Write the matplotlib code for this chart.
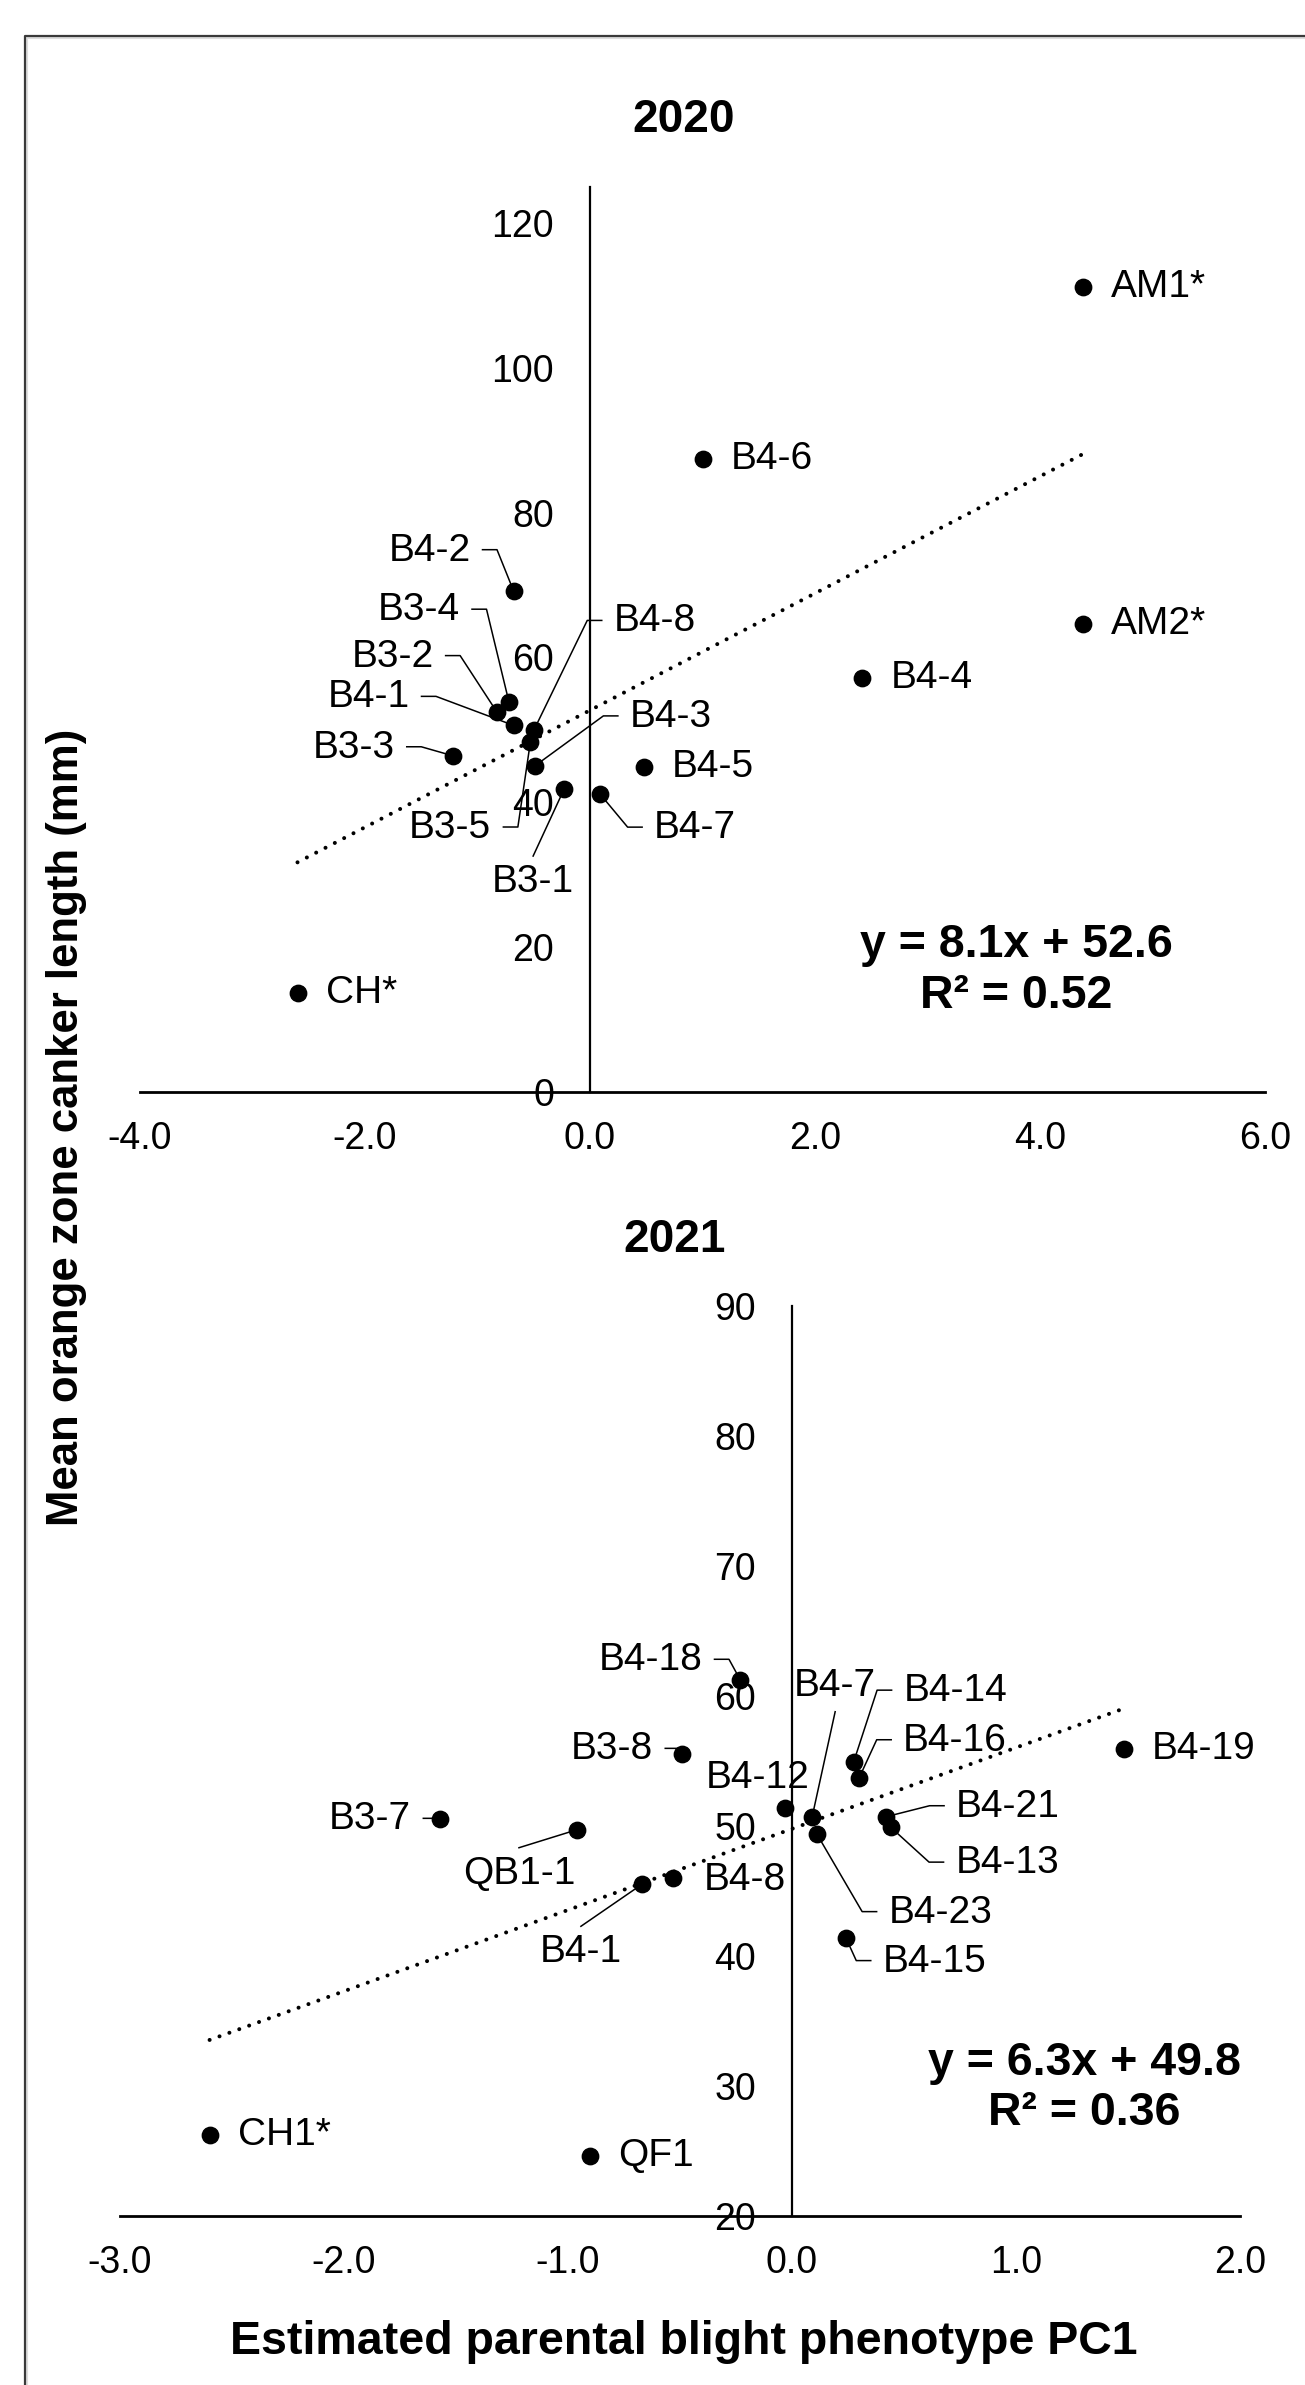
# -*- coding: utf-8 -*-
"""
Canker length vs parental blight PC1, 2020 and 2021 panels (Excel-style scatter)
"""
import matplotlib.pyplot as plt
import matplotlib.ticker as mticker
from matplotlib.lines import Line2D
from matplotlib.transforms import IdentityTransform
import numpy as np

plt.rcParams['font.family'] = ['Liberation Sans', 'DejaVu Sans']
plt.rcParams['axes.unicode_minus'] = False

# ---- data ----
labels_2020 = ['AM1*', 'AM2*', 'B4-6', 'B4-4', 'B4-5', 'B4-7', 'B3-1', 'B4-3',
               'B3-5', 'B4-8', 'B4-1', 'B3-2', 'B3-4', 'B4-2', 'B3-3', 'CH*']
pc1_2020 = [4.38, 4.38, 1.00, 2.42, 0.48, 0.09, -0.23, -0.49,
            -0.53, -0.50, -0.68, -0.83, -0.72, -0.68, -1.22, -2.60]
canker_2020 = [111.1, 64.6, 87.4, 57.2, 44.9, 41.1, 41.8, 45.0,
               48.3, 49.9, 50.6, 52.5, 53.8, 69.2, 46.4, 13.6]
eq_2020 = ['y = 8.1x + 52.6', 'R² = 0.52']

labels_2021 = ['B4-19', 'B4-18', 'B3-8', 'B3-7', 'QB1-1', 'B4-1', 'B4-8', 'B4-12', 'B4-7',
               'B4-23', 'B4-14', 'B4-16', 'B4-21', 'B4-13', 'B4-15', 'CH1*', 'QF1']
pc1_2021 = [1.48, -0.23, -0.49, -1.57, -0.96, -0.67, -0.53, -0.03, 0.09,
            0.11, 0.275, 0.30, 0.42, 0.44, 0.24, -2.60, -0.90]
canker_2021 = [55.9, 61.2, 55.5, 50.5, 49.7, 45.5, 46.0, 51.4, 50.7,
               49.4, 54.9, 53.7, 50.7, 49.9, 41.4, 26.2, 24.6]
eq_2021 = ['y = 6.3x + 49.8', 'R² = 0.36']

# ---- label layout: (dx, dy) pixels from the point (dy down), alignment, leader type ----
layout_2020 = [(28, 0, 'left', None), (28, 0, 'left', None), (28, 0, 'left', None),
               (28, 0, 'left', None), (28, 0, 'left', None), (54, 34, 'left', 'stub'),
               (-31, 93, 'center', 'below'), (95, -49, 'left', 'stub'),
               (-39, 86, 'right', 'stub'), (80, -109, 'left', 'stub'),
               (-104, -28, 'right', 'stub'), (-63, -55, 'right', 'stub'),
               (-49, -92, 'right', 'stub'), (-43, -40, 'right', 'stub'),
               (-58, -8, 'right', 'stub'), (28, 0, 'left', None)]
layout_2021 = [(28, 0, 'left', None), (-38, -20, 'right', 'stub'), (-29, -5, 'right', 'stub'),
               (-29, 0, 'right', 'stub'), (-58, 44, 'center', 'below'),
               (-61, 68, 'center', 'below'), (30, 2, 'left', None), (-28, -30, 'center', None),
               (23, -131, 'center', 'above'), (72, 79, 'left', 'stub'),
               (50, -71, 'left', 'stub'), (44, -37, 'left', 'stub'), (70, -10, 'left', 'stub'),
               (65, 36, 'left', 'stub'), (37, 24, 'left', 'stub'),
               (28, 0, 'left', None), (28, 0, 'left', None)]

W, H = 1305, 2385
fig = plt.figure(figsize=(W / 100, H / 100), dpi=100)


def px_rect(x0, y0, x1, y1):
    return [x0 / W, 1 - y1 / H, (x1 - x0) / W, (y1 - y0) / H]


def fxy(x, y):
    return x / W, 1 - y / H


def setup_panel(rect, xlim, ylim, xticks, yticks):
    ax = fig.add_axes(px_rect(*rect))
    ax.set_xlim(xlim)
    ax.set_ylim(ylim)
    ax.patch.set_alpha(0)
    for s in ['top', 'right']:
        ax.spines[s].set_visible(False)
    ax.spines['left'].set_position(('data', 0))
    ax.spines['left'].set_linewidth(1.6)
    ax.spines['bottom'].set_linewidth(2.0)
    ax.set_xticks(xticks)
    ax.set_yticks(yticks)
    ax.xaxis.set_major_formatter(mticker.FormatStrFormatter('%.1f'))
    ax.tick_params(axis='x', length=0, labelsize=27, pad=21)
    ax.tick_params(axis='y', length=0, labelsize=27, pad=26)
    return ax


def draw_panel(ax, xs, ys, labels, layout):
    xs = np.array(xs)
    ys = np.array(ys)
    # linear trendline across the data range
    k, b = np.polyfit(xs, ys, 1)
    xl = np.array([xs.min(), xs.max()])
    ax.plot(xl, k * xl + b, color='black', lw=2.9, linestyle=(0, (0.01, 2.6)),
            dash_capstyle='round', zorder=2)
    ax.plot(xs, ys, 'o', color='black', markersize=11.8, zorder=4)

    gap, stub = 12, 14.5
    for x, y, lab, (dx, dy, ha, kind) in zip(xs, ys, labels, layout):
        ax.annotate(lab, (x, y), xytext=(dx, -dy), textcoords='offset pixels',
                    ha=ha, va='center', fontsize=28, zorder=5)
        if kind is None:
            continue
        px, py = ax.transData.transform((x, y))
        tx, ty = px + dx, py - dy
        if kind == 'stub':
            sgn = 1 if ha == 'right' else -1
            s1 = tx + sgn * gap
            s2 = s1 + sgn * stub
            lx, ly = [s1, s2, px], [ty + 1, ty + 1, py]
        elif kind == 'below':
            lx, ly = [tx, px], [ty + 26, py]
        else:
            lx, ly = [tx, px], [ty - 26, py]
        ax.add_line(Line2D(lx, ly, transform=IdentityTransform(), color='black',
                           lw=1.1, zorder=3, clip_on=False))


# ---- 2020 panel ----
ax1 = setup_panel((140, 186.7, 1265, 1091.7), (-4, 6), (0, 125),
                  np.arange(-4, 7, 2), np.arange(0, 121, 20))
draw_panel(ax1, pc1_2020, canker_2020, labels_2020, layout_2020)
fig.text(*fxy(684, 120), '2020', ha='center', va='center', fontsize=33, fontweight='bold')
fig.text(*fxy(1016, 945), eq_2020[0], ha='center', va='center', fontsize=33.5, fontweight='bold')
fig.text(*fxy(1016, 996), eq_2020[1], ha='center', va='center', fontsize=33.5, fontweight='bold')

# ---- 2021 panel ----
ax2 = setup_panel((120, 1306, 1240, 2215.7), (-3, 2), (20, 90),
                  np.arange(-3, 2.1, 1), np.arange(20, 91, 10))
draw_panel(ax2, pc1_2021, canker_2021, labels_2021, layout_2021)
fig.text(*fxy(675, 1240), '2021', ha='center', va='center', fontsize=33, fontweight='bold')
fig.text(*fxy(1084, 2063), eq_2021[0], ha='center', va='center', fontsize=33.5, fontweight='bold')
fig.text(*fxy(1084, 2113), eq_2021[1], ha='center', va='center', fontsize=33.5, fontweight='bold')

# ---- shared axis titles ----
fig.text(*fxy(67, 1127), 'Mean orange zone canker length (mm)', rotation=90,
         ha='center', va='center', fontsize=31.5, fontweight='bold')
fig.text(*fxy(684, 2342), 'Estimated parental blight phenotype PC1',
         ha='center', va='center', fontsize=33.5, fontweight='bold')

# ---- outer frame (open at right and bottom) ----
fig.add_artist(Line2D([27 / W, 27 / W, 1], [0, 1 - 38 / H, 1 - 38 / H],
                      transform=fig.transFigure, color='#dddddd', lw=1.5))
fig.add_artist(Line2D([25 / W, 25 / W, 1], [0, 1 - 36 / H, 1 - 36 / H],
                      transform=fig.transFigure, color='#3a3a3a', lw=1.6))

plt.savefig('out.png', dpi=100, facecolor='white')
plt.close()
